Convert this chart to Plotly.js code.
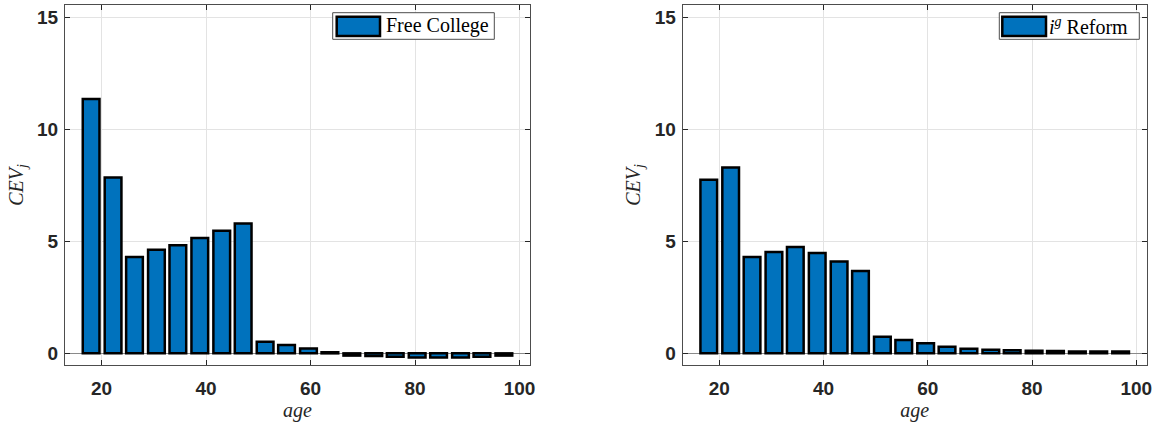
<!DOCTYPE html>
<html>
<head>
<meta charset="utf-8">
<script src="https://cdn.plot.ly/plotly-3.0.1.min.js"></script>
<style>
  html, body { margin: 0; padding: 0; background: #ffffff; }
  #chart { width: 1157px; height: 423px; }
</style>
</head>
<body>
<div id="chart"></div>
<script>
// Age bins (bar centres)
const ages = [18, 22.2, 26.3, 30.5, 34.6, 38.8, 43, 47.1, 51.3, 55.4, 59.6, 63.7, 67.9, 72.1, 76.2, 80.4, 84.5, 88.7, 92.8, 97];
// CEV_j by age — Free College
const freeCollege = [11.35, 7.85, 4.3, 4.63, 4.83, 5.15, 5.47, 5.8, 0.52, 0.37, 0.22, 0.05, -0.1, -0.12, -0.15, -0.18, -0.18, -0.18, -0.15, -0.1];
// CEV_j by age — i^g Reform
const igReform = [7.75, 8.3, 4.3, 4.52, 4.75, 4.48, 4.1, 3.68, 0.74, 0.6, 0.45, 0.3, 0.2, 0.16, 0.14, 0.12, 0.1, 0.08, 0.08, 0.08];
const xTicks = [20, 40, 60, 80, 100];
const yTicks = [0, 5, 10, 15];
const legendLabels = ["Free College", "<i>i</i><sup><i>g</i></sup> Reform"];

const barColor = "#0072BD";
const axisColor = "#262626";
const gridColor = "#e3e3e3";
const W = 1157, H = 423;

function barTrace(y, xa, ya, name) {
  return {
    type: "bar", x: ages, y: y, xaxis: xa, yaxis: ya, name: name,
    width: 3.2, showlegend: false,
    marker: { color: barColor, line: { color: "#000000", width: 2.5 } },
    hoverinfo: "x+y"
  };
}

const tickFont = { family: "Liberation Sans, Arial, sans-serif", size: 19, color: axisColor, weight: "bold" };
const titleFont = { family: "Liberation Serif, Times New Roman, serif", size: 20, color: axisColor };

function xAxis(domain, anchor) {
  return {
    domain: domain, anchor: anchor, range: [13, 102],
    tickvals: xTicks, ticktext: xTicks.map(String),
    ticks: "inside", ticklen: 5, tickcolor: axisColor, mirror: "ticks",
    ticklabelstandoff: 6,
    showline: true, linecolor: "#4d4d4d", linewidth: 1,
    showgrid: true, gridcolor: gridColor, gridwidth: 1, zeroline: false,
    tickfont: tickFont,
    title: { text: "<i>age</i>", font: titleFont, standoff: 3 },
    fixedrange: true
  };
}
function yAxis(domain, anchor) {
  return {
    domain: domain, anchor: anchor, range: [-0.52, 15.55],
    tickvals: yTicks, ticktext: yTicks.map(String),
    ticks: "inside", ticklen: 5, tickcolor: axisColor, mirror: "ticks",
    ticklabelstandoff: 2,
    showline: true, linecolor: "#4d4d4d", linewidth: 1,
    showgrid: true, gridcolor: gridColor, gridwidth: 1,
    zeroline: true, zerolinecolor: "#8a8a8a", zerolinewidth: 1,
    tickfont: tickFont,
    title: { text: "<i>CEV</i><sub><i>j</i></sub>", font: titleFont, standoff: 8 },
    fixedrange: true
  };
}

const px = v => v / W;
const py = v => 1 - v / H;

// Manual legends (box, swatch, label) in paper coordinates
const legends = [
  { box: [332.7, 494.3], sw: [336.7, 380], text: 383.5, label: legendLabels[0] },
  { box: [999.3, 1139.3], sw: [1002.3, 1046], text: 1047, label: legendLabels[1] }
];
const shapes = [], annotations = [];
legends.forEach(l => {
  shapes.push({ type: "rect", xref: "paper", yref: "paper",
    x0: px(l.box[0]), x1: px(l.box[1]), y0: py(39.3), y1: py(12.7),
    line: { color: "#4d4d4d", width: 1 }, fillcolor: "#ffffff", layer: "above" });
  shapes.push({ type: "rect", xref: "paper", yref: "paper",
    x0: px(l.sw[0]), x1: px(l.sw[1]), y0: py(36), y1: py(16.7),
    line: { color: "#000000", width: 2.5 }, fillcolor: barColor, layer: "above" });
  annotations.push({ xref: "paper", yref: "paper", x: px(l.text), y: py(26),
    xanchor: "left", yanchor: "middle", showarrow: false, text: l.label,
    font: { family: "Liberation Serif, Times New Roman, serif", size: 20, color: "#000000" } });
});

const yDom = [(H - 365) / H, (H - 5) / H];
const layout = {
  width: W, height: H,
  margin: { l: 0, r: 0, t: 0, b: 0 },
  paper_bgcolor: "#ffffff", plot_bgcolor: "#ffffff",
  bargap: 0,
  xaxis: xAxis([65 / W, 530 / W], "y"),
  yaxis: yAxis(yDom, "x"),
  xaxis2: xAxis([682.7 / W, 1146.7 / W], "y2"),
  yaxis2: yAxis(yDom, "x2"),
  shapes: shapes,
  annotations: annotations,
  showlegend: false
};

Plotly.newPlot("chart", [
  barTrace(freeCollege, "x", "y", "Free College"),
  barTrace(igReform, "x2", "y2", "i^g Reform")
], layout, { displayModeBar: false, staticPlot: true });
</script>
</body>
</html>
